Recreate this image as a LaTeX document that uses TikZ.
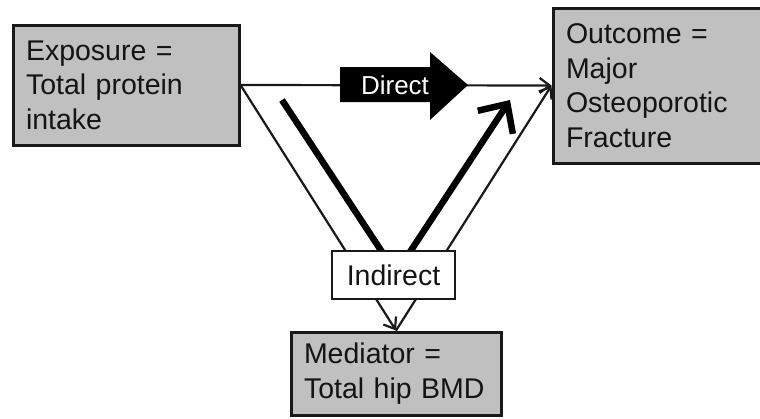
\documentclass[tikz,border=0pt]{standalone}
\usepackage{fontspec}
\setmainfont{Liberation Sans}
\usetikzlibrary{arrows.meta}
\definecolor{boxgray}{RGB}{192,192,192}
\definecolor{txt}{RGB}{20,20,20}
\definecolor{edge}{RGB}{25,25,25}
\begin{document}
\begin{tikzpicture}[x=1pt,y=-1pt,
  varbox/.style={draw=edge, line width=3pt, fill=boxgray, align=left,
    inner xsep=13pt, inner ysep=0pt, anchor=center,
    font=\fontsize{28.5}{34.5}\selectfont, text=txt},
  labelbox/.style={draw=edge, line width=2pt, fill=white, inner sep=0pt,
    font=\fontsize{28.5}{34.5}\selectfont, text=txt},
  thinarrow/.style={draw=edge, line width=2.2pt, -{Straight Barb[length=10pt,width=15pt]}},
  thickline/.style={line width=6.5pt, draw=black},
  thickarrow/.style={line width=6.5pt, draw=black, -{Straight Barb[length=22pt,width=42pt]}},
  blockarrow/.style={fill=black},
  dirtext/.style={text=white, font=\fontsize{26}{30}\selectfont, inner sep=0pt}
]
\useasboundingbox (0,0) rectangle (760,418);

% variable boxes
\node[varbox, minimum width=226pt, minimum height=120pt, text width=200pt] (E) at (126,85)
  {Exposure =\\Total protein\\intake};
\node[varbox, minimum width=212pt, minimum height=155pt, text width=186pt] (O) at (659,85.5)
  {Outcome =\\Major\\Osteoporotic\\Fracture};
\node[varbox, minimum width=210pt, minimum height=83pt, text width=184pt] (M) at (396,373.5)
  {Mediator =\\Total hip BMD};

% thin connectors
\draw[thinarrow] (E.east) -- (O.west);
\draw[thinarrow] (E.east) -- (M.north);
\draw[thinarrow] (M.north) -- (O.west);

% thick indirect path
\coordinate (ts) at (282,100);
\coordinate (te) at (384,255);
\coordinate (us) at (408,255);
\coordinate (ue) at (510,100);
\draw[thickline] (ts) -- (te);
\draw[thickarrow] (us) -- (ue);

% Direct block arrow
\fill[blockarrow] (340,67) -- (430,67) -- (430,52) -- (468,85) -- (430,120) -- (430,102) -- (340,102) -- cycle;
\node[dirtext] (D) at (395,85) {Direct};

% Indirect label
\node[labelbox, minimum width=123pt, minimum height=48pt] (I) at (393.5,275) {Indirect};
\end{tikzpicture}
\end{document}
